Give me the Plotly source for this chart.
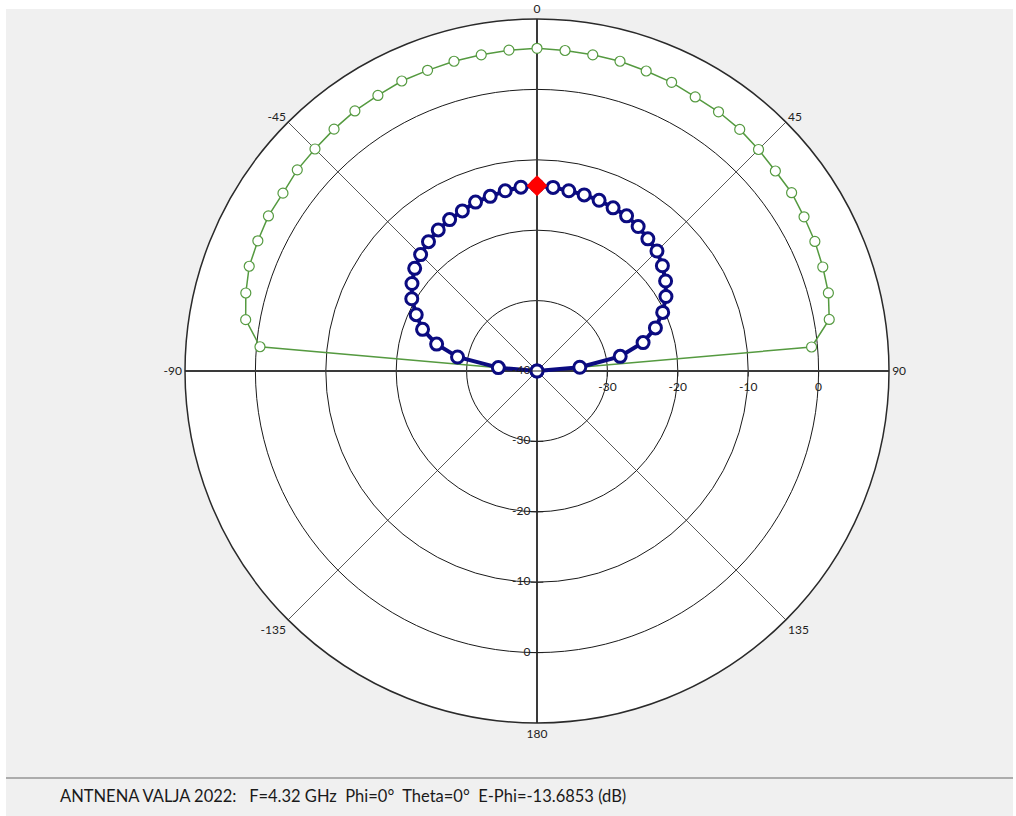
import plotly.graph_objects as go

# Radiation pattern cut, Phi = 0 deg, theta in degrees, levels in dB
theta = [-90, -85, -80, -75, -70, -65, -60, -55, -50, -45, -40, -35, -30, -25, -20, -15, -10, -5,
         0, 5, 10, 15, 20, 25, 30, 35, 40, 45, 50, 55, 60, 65, 70, 75, 80, 85, 90]

e_phi = [-40.0, -34.49, -28.54, -25.24, -22.70, -21.07, -19.46, -18.32, -17.32, -16.62, -16.02,
         -15.54, -15.17, -14.91, -14.47, -14.32, -14.01, -13.79,
         -13.6853,
         -13.82, -14.00, -14.10, -14.20, -14.43, -14.55, -14.95, -15.50, -15.90, -16.75, -17.70,
         -18.85, -20.30, -22.10, -24.40, -28.00, -33.90, -40.0]

reference = [-40.0, -0.50, 2.02, 2.82, 3.50, 3.75, 4.05, 4.05, 4.45, 4.60, 4.85, 5.10, 5.20,
             5.45, 5.45, 5.55, 5.60, 5.75,
             5.84,
             5.70, 5.60, 5.55, 5.35, 5.25, 4.95, 4.95, 4.80, 4.50, 4.20, 4.15, 3.80, 3.55, 3.20,
             2.85, 2.15, -0.85, -40.0]

# Selected point
sel_theta = 0
sel_value = e_phi[theta.index(sel_theta)]

freq_ghz = 4.32
phi_deg = 0
title_name = "ANTNENA VALJA 2022:"

r_range = [-40, 10]
r_ticks = [-40, -30, -20, -10, 0]
ang_ticks = [0, 45, 90, 135, 180, 225, 270, 315]
ang_text = ["0", "45", "90", "135", "180", "-135", "-90", "-45"]

W, H = 1016, 816
cx, cy, rad = 537, 371, 352

navy = "#0b0b80"
green = "#559a40"
ink = "#222222"
label_font = dict(family="Lato", size=12, color=ink)

fig = go.Figure()

# Main cross axes (0-180 and 90-270), drawn heavier than the diagonal grid
fig.add_trace(go.Scatterpolar(
    r=[r_range[1], r_range[0], r_range[1]], theta=[0, 0, 180],
    mode="lines", line=dict(color="#3a3a3a", width=2),
    hoverinfo="skip", showlegend=False))
fig.add_trace(go.Scatterpolar(
    r=[r_range[1], r_range[0], r_range[1]], theta=[90, 90, 270],
    mode="lines", line=dict(color="#3a3a3a", width=2),
    hoverinfo="skip", showlegend=False))

# Reference pattern (green)
fig.add_trace(go.Scatterpolar(
    r=reference, theta=theta, mode="lines+markers",
    line=dict(color=green, width=1.5),
    marker=dict(symbol="circle", size=10, color="white", line=dict(color=green, width=1.2)),
    showlegend=False))

# E-Phi pattern (navy)
fig.add_trace(go.Scatterpolar(
    r=e_phi, theta=theta, mode="lines+markers",
    line=dict(color=navy, width=4),
    marker=dict(symbol="circle", size=12, color="white", line=dict(color=navy, width=3)),
    showlegend=False))

# Cursor point
fig.add_trace(go.Scatterpolar(
    r=[sel_value], theta=[sel_theta], mode="markers",
    marker=dict(symbol="diamond", size=16, color="#ff0000", line=dict(width=0)),
    showlegend=False))

# Level labels along the 180 deg axis
fig.add_trace(go.Scatterpolar(
    r=r_ticks, theta=[180] * len(r_ticks), mode="markers+text",
    text=[str(v) for v in r_ticks], textposition="middle left",
    textfont=label_font,
    marker=dict(symbol="line-ew", size=9, color=ink, line=dict(color=ink, width=1)),
    hoverinfo="skip", showlegend=False))

fig.update_layout(
    width=W, height=H,
    margin=dict(l=0, r=0, t=0, b=0),
    paper_bgcolor="white",
    font=label_font,
    polar=dict(
        domain=dict(x=[(cx - rad) / W, (cx + rad) / W],
                    y=[(H - cy - rad) / H, (H - cy + rad) / H]),
        bgcolor="white",
        angularaxis=dict(
            rotation=90, direction="clockwise",
            tickmode="array", tickvals=ang_ticks, ticktext=ang_text,
            showline=True, linecolor="#2a2a2a", linewidth=1.5,
            showgrid=True, gridcolor="#5a5a5a", gridwidth=1,
            ticks="", tickfont=label_font,
        ),
        radialaxis=dict(
            range=r_range, angle=0, side="clockwise",
            tickmode="array", tickvals=r_ticks[1:], ticktext=[str(v) for v in r_ticks[1:]],
            showline=False, showgrid=True, gridcolor="#1a1a1a", gridwidth=1.2,
            ticks="outside", ticklen=5, tickcolor=ink,
            tickfont=label_font,
        ),
    ),
    shapes=[
        # window background
        dict(type="rect", xref="paper", yref="paper", layer="below",
             x0=6 / W, x1=1013 / W, y0=0, y1=1 - 9 / H,
             fillcolor="#f0f0f0", line=dict(width=0)),
        # status bar separator
        dict(type="line", xref="paper", yref="paper", layer="below",
             x0=6 / W, x1=1013 / W, y0=1 - 778 / H, y1=1 - 778 / H,
             line=dict(color="#acacac", width=2)),
    ],
    annotations=[
        dict(xref="paper", yref="paper", x=58 / W, y=1 - 796 / H,
             xanchor="left", yanchor="middle", showarrow=False,
             text=(f"{title_name}\u00a0\u00a0\u00a0F={freq_ghz:g} GHz\u00a0\u00a0Phi={phi_deg}°"
                   f"\u00a0\u00a0Theta={sel_theta}°\u00a0\u00a0E-Phi={sel_value:.4f} (dB)"),
             font=dict(family="Lato", size=16.5, color="#1a1a1a")),
    ],
)

fig.write_html("out.html")
